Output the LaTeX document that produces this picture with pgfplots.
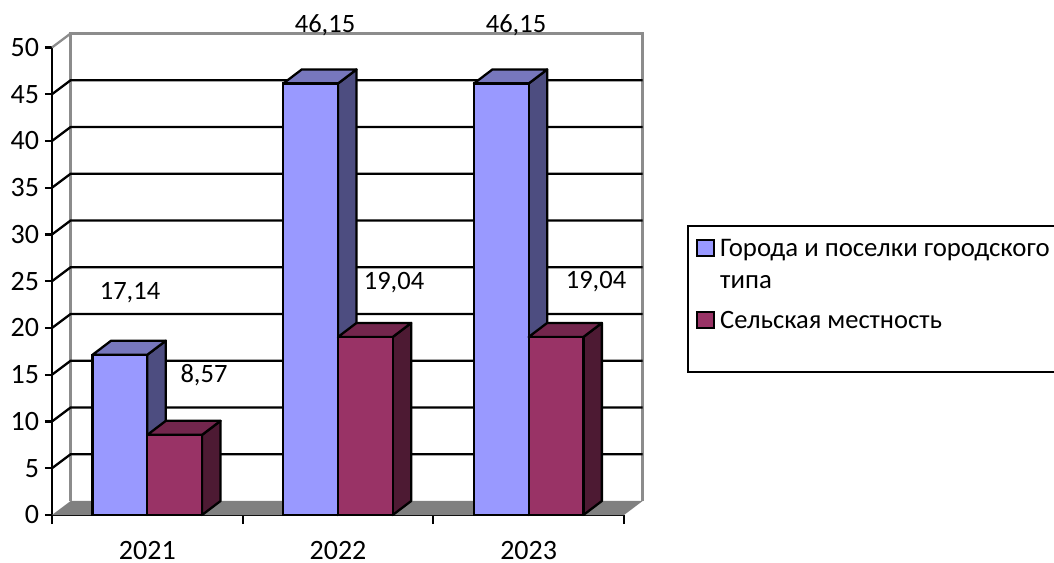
\documentclass[border=0pt]{standalone}
\usepackage{fontspec}
\setmainfont{Carlito}
\usepackage{pgfplots}
\pgfplotsset{compat=1.18}
\definecolor{bluef}{HTML}{9999FF}
\definecolor{bluet}{HTML}{7777BD}
\definecolor{blues}{HTML}{4D4D80}
\definecolor{redf}{HTML}{993366}
\definecolor{redt}{HTML}{73264D}
\definecolor{reds}{HTML}{4D1A33}
\definecolor{wallg}{HTML}{8C8C8C}
\definecolor{floorg}{HTML}{808080}
\newcommand{\depthfaces}[5]{% left, right, value, top colour, side colour
  \pgfmathsetmacro{\xl}{#1}\pgfmathsetmacro{\xr}{#2}
  \pgfmathsetmacro{\xld}{#1+0.097}\pgfmathsetmacro{\xrd}{#2+0.097}
  \pgfmathsetmacro{\yd}{#3+1.5}
  \addplot[draw=black,line width=2.3pt,fill=#5,line join=round] coordinates {(\xr,0) (\xrd,1.5) (\xrd,\yd) (\xr,#3)} --cycle;
  \addplot[draw=black,line width=2.3pt,fill=#4,line join=round] coordinates {(\xl,#3) (\xr,#3) (\xrd,\yd) (\xld,\yd)} --cycle;
}
\begin{document}
\fontsize{26.5pt}{30pt}\selectfont
\begin{tikzpicture}[x=1pt,y=1pt]
\useasboundingbox (0,0) rectangle (1054,562);
\begin{axis}[
  at={(52pt,47pt)},anchor=south west,
  scale only axis,width=572pt,height=467.5pt,
  xmin=-0.5,xmax=2.5,ymin=0,ymax=50,
  clip=false,
  axis lines=left,
  axis line style={line width=2.3pt,black,-},
  x axis line style={-},y axis line style={-},
  xtick={0,1,2},xticklabels={2021,2022,2023},
  minor xtick={-0.5,0.5,1.5,2.5},
  ytick={0,5,10,15,20,25,30,35,40,45,50},
  tick style={line width=2.3pt,black},
  major tick length=7pt,minor tick length=9pt,
  tick align=outside,
  xtick style={draw=none},
  minor x tick style={draw=black,line width=2.3pt},
  xticklabel style={inner sep=0pt,yshift=-19pt},
  tick label style={font=\fontsize{28pt}{30pt}\selectfont},
  /pgf/number format/assume math mode=true,
  yticklabel style={xshift=3pt},
]
% floor
\addplot[draw=none,fill=floorg] coordinates {(-0.5,0) (-0.402,1.5) (2.598,1.5) (2.5,0)} --cycle;
% walls
\addplot[draw=wallg,line width=3pt] coordinates {(-0.402,1.5) (-0.402,51.5) (2.598,51.5) (2.598,1.5)};
\addplot[draw=wallg,line width=2.3pt] coordinates {(-0.5,50) (-0.402,51.5)};
% grid lines
\pgfplotsinvokeforeach{5,10,15,20,25,30,35,40,45}{
  \addplot[black,line width=2.3pt] coordinates {(-0.5,#1) (-0.402,#1+1.5) (2.598,#1+1.5)};
}
% side and top faces, blue
\depthfaces{-0.287}{0}{17.14}{bluet}{blues}
\depthfaces{0.713}{1}{46.15}{bluet}{blues}
\depthfaces{1.713}{2}{46.15}{bluet}{blues}
% front faces, blue
\addplot[ybar,bar width=0.287,bar shift=-0.1435,draw=black,line width=2.3pt,fill=bluef] coordinates {(0,17.14) (1,46.15) (2,46.15)};
% side and top faces, red
\depthfaces{0}{0.287}{8.57}{redt}{reds}
\depthfaces{1}{1.287}{19.04}{redt}{reds}
\depthfaces{2}{2.287}{19.04}{redt}{reds}
% front faces, red
\addplot[ybar,bar width=0.287,bar shift=0.1435,draw=black,line width=2.3pt,fill=redf] coordinates {(0,8.57) (1,19.04) (2,19.04)};
\end{axis}
% data labels
\node[anchor=base] at (130,262) {17,14};
\node[anchor=base] at (204,179) {8,57};
\node[anchor=base] at (325,529) {46,15};
\node[anchor=base] at (516,529) {46,15};
\node[anchor=base] at (394,272) {19,04};
\node[anchor=base] at (596,273) {19,04};
% legend
\draw[black,line width=2.3pt] (688,562-226) rectangle (1060,562-372);
\draw[black,line width=2.3pt,fill=bluef] (697,562-256) rectangle (714,562-240);
\draw[black,line width=2.3pt,fill=redf] (697,562-328) rectangle (714,562-312);
\node[anchor=base west,inner sep=0pt,font=\fontsize{26.8pt}{30pt}\selectfont] at (720,562-257) {Города и поселки городского};
\node[anchor=base west,inner sep=0pt,font=\fontsize{26.8pt}{30pt}\selectfont] at (720,562-289) {типа};
\node[anchor=base west,inner sep=0pt,font=\fontsize{26.5pt}{30pt}\selectfont] at (720,562-329) {Сельская местность};
\end{tikzpicture}
\end{document}
